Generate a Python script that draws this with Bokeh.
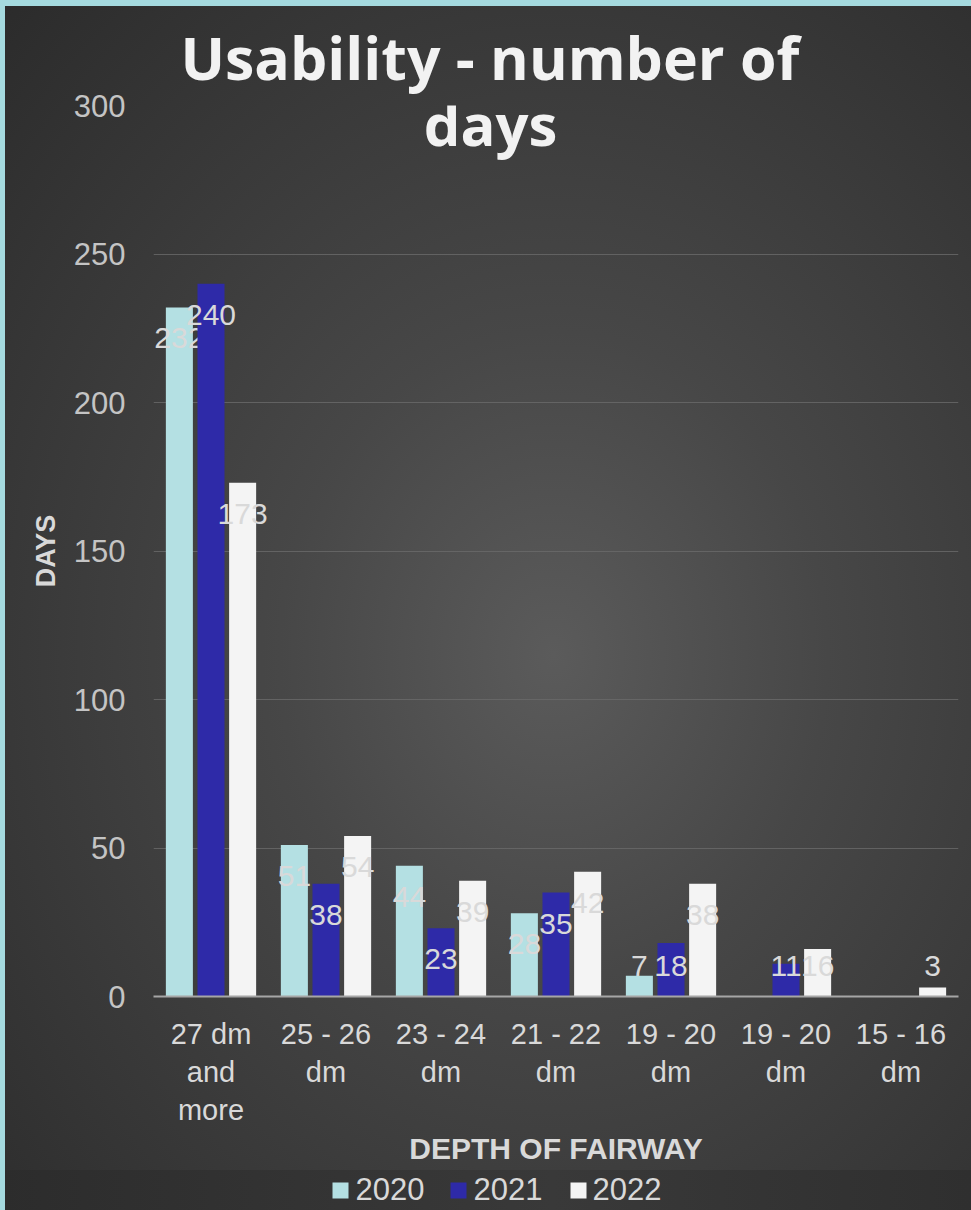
import numpy as np
from bokeh.plotting import figure
from bokeh.layouts import column
from bokeh.models import ColumnDataSource, Range1d, FixedTicker, Label
from bokeh.core.properties import value
from bokeh.embed import file_html
from bokeh.resources import INLINE

# ---- data ----
categories = ["27 dm and more", "25 - 26 dm", "23 - 24 dm", "21 - 22 dm",
              "19 - 20 dm", "19 - 20 dm", "15 - 16 dm"]
tick_labels = ["27 dm\nand\nmore", "25 - 26\ndm", "23 - 24\ndm", "21 - 22\ndm",
               "19 - 20\ndm", "19 - 20\ndm", "15 - 16\ndm"]
years = ["2020", "2021", "2022"]
days_2020 = [232, 51, 44, 28, 7, None, None]
days_2021 = [240, 38, 23, 35, 18, 11, None]
days_2022 = [173, 54, 39, 42, 38, 16, 3]
y_ticks = [0, 50, 100, 150, 200, 250, 300]
title_lines = ["Usability  - number of", "days"]

# ---- style ----
colors = ["#b4e0e3", "#2e2aa8", "#f4f4f4"]
offsets = [-0.275, 0.0, 0.275]
bar_w = 0.235
FONT = "Liberation Sans"
LABEL_COL = "#d9d9d9"
BORDER = "#a5dadf"

W, H = 971, 1170            # main chart; the legend strip sits below it
LEG_H = 40
FL, FR, FT, FB = 153, 958, 105, 996          # plot frame edges in page pixels
X0, X1 = 0.5, len(categories) + 0.5
Y0, Y1 = 0, 300


def px_x(px):   # page pixel -> data x (for annotations outside the frame)
    return X0 + (px - FL) * (X1 - X0) / (FR - FL)


def px_y(py):   # page pixel -> data y
    return Y0 + (FB - py) * (Y1 - Y0) / (FB - FT)


p = figure(width=W, height=H, output_backend="svg", toolbar_location=None,
           x_range=Range1d(X0, X1), y_range=Range1d(Y0, Y1),
           min_border_left=FL, min_border_right=W - FR, min_border_top=FT,
           min_border_bottom=H - FB)
p.title.visible = False
p.background_fill_color = None
p.border_fill_color = None
p.outline_line_color = None
p.styles = {
    "background": "radial-gradient(ellipse farthest-corner at 57% 56%, #5b5b5b 0%, #474747 35%, #2b2b2b 100%)",
    "box-shadow": f"inset 5px 6px 0 0 {BORDER}",
}

xs = np.arange(1, len(categories) + 1)
for yr, vals, off, col in zip(years, [days_2020, days_2021, days_2022], offsets, colors):
    v = np.array([np.nan if a is None else a for a in vals], dtype=float)
    m = ~np.isnan(v)
    src = ColumnDataSource(dict(
        x=xs[m] + off,
        top=v[m],
        lab=[str(int(a)) for a in v[m]],
        ly=np.maximum(v[m], 20.7),
    ))
    p.vbar(x="x", top="top", bottom=0, width=bar_w, source=src,
           fill_color=col, line_color=None)
    p.text(x="x", y="ly", text="lab", source=src, text_align="center",
           text_baseline="middle", y_offset=31, text_color=LABEL_COL,
           text_font=value(FONT), text_font_size="30px")

# axes
p.xaxis.ticker = FixedTicker(ticks=[int(t) for t in xs])
p.xaxis.major_label_overrides = {int(i): t for i, t in zip(xs, tick_labels)}
p.xaxis.major_label_text_font = FONT
p.xaxis.major_label_text_font_size = "29px"
p.xaxis.major_label_text_color = LABEL_COL
p.xaxis.major_label_standoff = 15
p.xaxis.major_tick_line_color = None
p.xaxis.minor_tick_line_color = None
p.xaxis.axis_line_color = "#a6a6a6"
p.xaxis.axis_line_width = 2
p.xaxis.axis_label = "DEPTH OF FAIRWAY"
p.xaxis.axis_label_text_font = FONT
p.xaxis.axis_label_text_font_style = "bold"
p.xaxis.axis_label_text_font_size = "30px"
p.xaxis.axis_label_text_color = LABEL_COL
p.xaxis.axis_label_standoff = 3

p.yaxis.ticker = FixedTicker(ticks=y_ticks)
p.yaxis.major_label_text_font = FONT
p.yaxis.major_label_text_font_size = "31px"
p.yaxis.major_label_text_color = "#c4c4c4"
p.yaxis.major_label_standoff = 22
p.yaxis.major_tick_line_color = None
p.yaxis.minor_tick_line_color = None
p.yaxis.axis_line_color = None
p.yaxis.axis_label = "DAYS"
p.yaxis.axis_label_text_font = FONT
p.yaxis.axis_label_text_font_style = "bold"
p.yaxis.axis_label_text_font_size = "27px"
p.yaxis.axis_label_text_color = LABEL_COL
p.yaxis.axis_label_standoff = 10

p.xgrid.visible = False
p.ygrid.ticker = FixedTicker(ticks=y_ticks)
p.ygrid.grid_line_color = "#6a6a6a"
p.ygrid.grid_line_alpha = 0.8

# title: first line above the frame, second line overlapping it (as in the original)
p.add_layout(Label(x=px_x(497), y=px_y(56), text=title_lines[0],
                   text_align="center", text_baseline="middle",
                   text_font="Open Sans", text_font_style="bold",
                   text_font_size="59px", text_color="#f2f2f2"), "above")
p.add_layout(Label(x=px_x(490), y=px_y(123), text=title_lines[1],
                   text_align="center", text_baseline="middle",
                   text_font="Open Sans", text_font_style="bold",
                   text_font_size="58px", text_color="#f2f2f2"))

# ---- legend strip (square marker + year) ----
# the column layout aligns this strip's frame with the chart frame (FL..FR),
# so its x range is expressed in page pixels over that span
leg = figure(width=W, height=LEG_H, output_backend="svg", toolbar_location=None,
             x_range=Range1d(FL, FR), y_range=Range1d(0, LEG_H),
             min_border=0, x_axis_type=None, y_axis_type=None)
leg.title.visible = False
leg.grid.visible = False
leg.background_fill_color = None
leg.border_fill_color = None
leg.outline_line_color = None
leg.styles = {
    "background": "linear-gradient(to right, #2c2c2c 0%, #393939 57%, #2f2f2f 100%)",
    "box-shadow": f"inset 5px 0 0 0 {BORDER}",
}
leg_src = ColumnDataSource(dict(
    sx=[340, 458, 578], tx=[355, 473, 592], year=years, color=colors,
))
leg.scatter(x="sx", y=20, source=leg_src, marker="square", size=16,
            fill_color="color", line_color=None)
leg.text(x="tx", y=22, text="year", source=leg_src, text_align="left",
         text_baseline="middle", text_color=LABEL_COL,
         text_font=value(FONT), text_font_size="31px")

root = column(p, leg, spacing=0)
open("out.html", "w").write(file_html(root, INLINE))
